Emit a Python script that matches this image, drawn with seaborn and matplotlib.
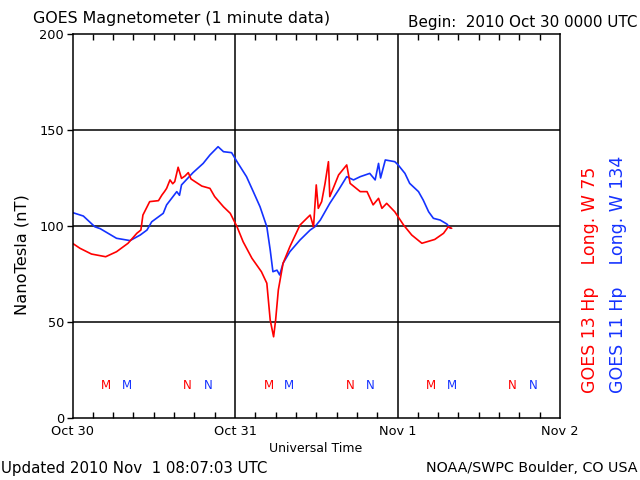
import matplotlib
matplotlib.use("Agg")
import matplotlib.pyplot as plt
import seaborn as sns
import pandas as pd

# hours since 2010 Oct 30 0000 UTC
g13_hours = [0, 1.1, 2.8, 4.9, 6.5, 8.2, 9.5, 10.1, 10.4, 11.4, 12.7, 13.2, 13.6, 13.9, 14.4,
             14.8, 15.1, 15.6, 16.1, 16.6, 17.1, 17.5, 18.1, 19.1, 20.3, 21.0, 22.3, 23.3, 24.3,
             25.2, 26.5, 27.9, 28.7, 29.2, 29.7, 30.0, 30.4, 31.1, 32.1, 33.6, 34.6, 35.1,
             35.6, 36.0, 36.3, 36.8, 37.3, 37.8, 38.0, 38.5, 39.3, 40.5, 41.0, 42.5,
             43.5, 44.4, 45.2, 45.7, 46.4, 47.6, 48.9, 50.1, 51.6, 53.5, 54.8, 55.5, 56.0]
g13_nt = [91, 88.4, 85.4, 84, 86.6, 91, 96.2, 97.9, 105.7, 112.7, 113.2, 116.1, 118, 119.6, 124,
          122, 123.1, 130.6, 124.8, 126, 127.8, 124.5, 123.1, 120.8, 119.6, 115.3, 110, 106.6, 99.6,
          91.8, 83.2, 76.2, 70.2, 51, 42.3, 51, 66.7, 80.6, 89.2, 100.5, 104, 105.7,
          99.6, 121.4, 109.2, 112.7, 122.2, 133.5, 115.3, 119.6, 126.6, 131.8, 122.2, 117.9,
          117.9, 111, 114.4, 109.2, 111.8, 107.4, 100.5, 95.3, 91, 93, 96.2, 99.6, 98.8]

g11_hours = [0, 1.6, 3.3, 4.1, 6.5, 8.5, 10.0, 11.0, 11.7, 13.4, 13.9, 15.4, 15.8, 16.1, 17.8,
             19.3, 20.3, 21.5, 22.3, 23.5, 24.3, 25.7, 26.7, 27.7, 28.7, 29.2, 29.6,
             30.2, 30.6, 31.1, 32.1, 33.6, 35.1, 35.8, 36.6, 38.0, 39.3, 40.5, 41.5, 42.5,
             43.9, 44.7, 45.2, 45.5, 46.2, 47.6, 48.1, 49.1, 49.8, 51.1, 51.8, 52.6,
             53.3, 54.3, 55.3, 55.8]
g11_nt = [107, 105.2, 99.6, 98.6, 93.6, 92.4, 95.3, 97.9, 102.2, 106.6, 111, 117.9, 116, 121.4, 127.8,
          132.6, 137, 141.3, 138.7, 138.2, 133.5, 125.7, 117.9, 110, 99.6, 87.5, 76.2,
          77, 74.5, 80.6, 86.6, 92.7, 97.9, 99.6, 103.1, 111.8, 118.8, 125.7, 124, 125.7,
          127.4, 124, 132.6, 125, 134.4, 133.5, 131.8, 127.4, 122.2, 117.9, 113.5, 107.4,
          104, 103.1, 101, 98.8]

# local noon (M) / midnight (N) markers
g13_m_hours = [5, 29, 53]
g13_n_hours = [17, 41, 65]
g11_m_hours = [8, 32, 56]
g11_n_hours = [20, 44, 68]

day_ticks = [0, 24, 48, 72]
day_labels = ["Oct 30", "Oct 31", "Nov 1", "Nov 2"]
y_ticks = [0, 50, 100, 150, 200]

RED = "#ff0000"
BLUE = "#1432ff"

df = pd.concat([
    pd.DataFrame({"hours": g13_hours, "nT": g13_nt, "sat": "GOES 13"}),
    pd.DataFrame({"hours": g11_hours, "nT": g11_nt, "sat": "GOES 11"}),
])

sns.set_style("white")
plt.rcParams["font.family"] = ["DejaVu Sans"]
plt.rcParams["text.color"] = "black"
plt.rcParams["xtick.color"] = "black"
plt.rcParams["ytick.color"] = "black"

fig = plt.figure(figsize=(6.4, 4.8), dpi=100)
ax = fig.add_axes([72.5 / 640, 1 - 418 / 480, (560 - 72.5) / 640, (418 - 34) / 480])

sns.lineplot(data=df, x="hours", y="nT", hue="sat", palette={"GOES 13": RED, "GOES 11": BLUE},
             hue_order=["GOES 11", "GOES 13"], linewidth=1.2, legend=False, ax=ax,
             estimator=None, sort=False)

ax.set_xlim(0, 72)
ax.set_ylim(0, 200)
for v in [50, 100, 150]:
    ax.axhline(v, color="black", linewidth=1.1, zorder=0)
for h in [24, 48]:
    ax.axvline(h, color="black", linewidth=1.1, zorder=0)

ax.set_xticks(day_ticks)
ax.set_xticklabels(day_labels, fontsize=9.3)
ax.set_xticks(range(0, 73, 3), minor=True)
ax.set_yticks(y_ticks)
ax.set_yticklabels([str(v) for v in y_ticks], fontsize=9.3)
ax.tick_params(axis="x", which="both", direction="in", top=True, bottom=True,
               length=4, width=1, pad=5)
ax.tick_params(axis="x", which="major", length=0)
ax.tick_params(axis="y", which="major", direction="out", left=True, length=4, width=1, pad=2)
for s in ax.spines.values():
    s.set_color("black")
    s.set_linewidth(1.1)
ax.set_xlabel("")
ax.set_ylabel("")

for h in g13_m_hours:
    ax.text(h, 17, "M", color=RED, ha="center", va="center", fontsize=8.5)
for h in g13_n_hours:
    ax.text(h, 17, "N", color=RED, ha="center", va="center", fontsize=8.5)
for h in g11_m_hours:
    ax.text(h, 17, "M", color=BLUE, ha="center", va="center", fontsize=8.5)
for h in g11_n_hours:
    ax.text(h, 17, "N", color=BLUE, ha="center", va="center", fontsize=8.5)

fig.text(33 / 640, 1 - 18 / 480, "GOES Magnetometer (1 minute data)", fontsize=11.4,
         ha="left", va="center")
fig.text(638 / 640, 1 - 22 / 480, "Begin:  2010 Oct 30 0000 UTC", fontsize=10.9,
         ha="right", va="center")
fig.text(22 / 640, 1 - 255 / 480, "NanoTesla (nT)", fontsize=11.7, rotation=90,
         ha="center", va="center")
fig.text(316 / 640, 1 - 449 / 480, "Universal Time", fontsize=9, ha="center", va="center")
fig.text(1 / 640, 1 - 468 / 480, "Updated 2010 Nov  1 08:07:03 UTC", fontsize=10.8,
         ha="left", va="center")
fig.text(638 / 640, 1 - 468 / 480, "NOAA/SWPC Boulder, CO USA", fontsize=10.3,
         ha="right", va="center")
fig.text(590 / 640, 1 - 393 / 480, "GOES 13 Hp    Long. W 75", fontsize=12.5, color=RED,
         rotation=90, ha="center", va="bottom")
fig.text(618 / 640, 1 - 393 / 480, "GOES 11 Hp    Long. W 134", fontsize=12.5, color=BLUE,
         rotation=90, ha="center", va="bottom")

fig.savefig("out.png", dpi=100)
